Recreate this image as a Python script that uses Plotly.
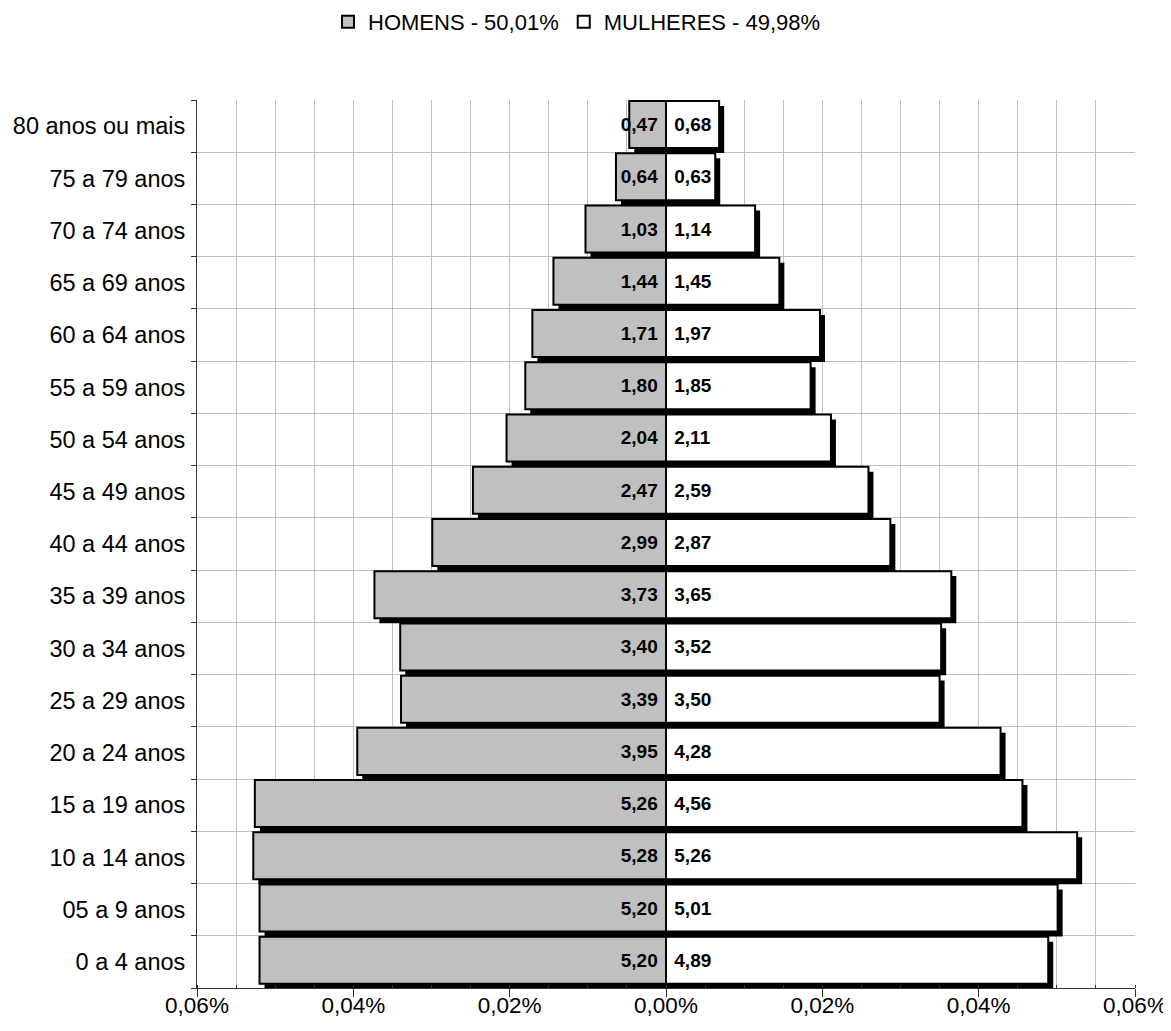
import plotly.graph_objects as go

# ---- data ----
age_groups = ["0 a 4 anos", "05 a 9 anos", "10 a 14 anos", "15 a 19 anos", "20 a 24 anos",
              "25 a 29 anos", "30 a 34 anos", "35 a 39 anos", "40 a 44 anos", "45 a 49 anos",
              "50 a 54 anos", "55 a 59 anos", "60 a 64 anos", "65 a 69 anos", "70 a 74 anos",
              "75 a 79 anos", "80 anos ou mais"]
men_pct = [5.20, 5.20, 5.28, 5.26, 3.95, 3.39, 3.40, 3.73, 2.99, 2.47, 2.04, 1.80, 1.71, 1.44, 1.03, 0.64, 0.47]
women_pct = [4.89, 5.01, 5.26, 4.56, 4.28, 3.50, 3.52, 3.65, 2.87, 2.59, 2.11, 1.85, 1.97, 1.45, 1.14, 0.63, 0.68]
men_name = "HOMENS - 50,01%"
women_name = "MULHERES - 49,98%"
tick_vals = [-0.06, -0.04, -0.02, 0.0, 0.02, 0.04, 0.06]
tick_text = ["0,06%", "0,04%", "0,02%", "0,00%", "0,02%", "0,04%", "0,06%"]

men_x = [-v / 100 for v in men_pct]
women_x = [v / 100 for v in women_pct]
fmt = lambda v: f"{v:.2f}".replace(".", ",")
NB = "\u00a0"
men_text = [fmt(v) + NB for v in men_pct]
women_text = [NB + fmt(v) for v in women_pct]

FONT = "Arial, Liberation Sans, sans-serif"
SHADOW_DX = 0.00064   # ~5 px to the right
BAR_W = 0.9
BAR_OFF = -0.42
SH_OFF = -0.515

W, H = 1163, 1023  # page body has an 8px margin

fig = go.Figure()
# shadows
for xs in (men_x, women_x):
    fig.add_trace(go.Bar(
        y=age_groups, x=xs, base=SHADOW_DX, orientation="h",
        width=BAR_W, offset=SH_OFF,
        marker=dict(color="black", line=dict(width=0)),
        showlegend=False, hoverinfo="skip",
    ))
# main bars
for xs, txt, name, color in ((men_x, men_text, men_name, "#c0c0c0"),
                             (women_x, women_text, women_name, "white")):
    fig.add_trace(go.Bar(
        y=age_groups, x=xs, orientation="h", name=name,
        width=BAR_W, offset=BAR_OFF,
        marker=dict(color=color, line=dict(color="black", width=2)),
        text=txt, textposition="inside", insidetextanchor="start", textangle=0,
        textfont=dict(family=FONT, size=19, color="black", weight="bold"),
        constraintext="none", cliponaxis=False,
    ))

fig.update_layout(
    width=W, height=H,
    barmode="overlay",
    plot_bgcolor="white", paper_bgcolor="white",
    margin=dict(l=189, r=36, t=92, b=43, autoexpand=False),
    font=dict(family=FONT, size=22, color="black"),
    uniformtext=dict(minsize=19, mode="show"),
    legend=dict(orientation="h", xref="container", x=569 / W, xanchor="center",
                yref="container", y=1 - 14 / H, yanchor="middle",
                font=dict(size=22), itemwidth=30, traceorder="normal"),
    xaxis=dict(range=[-0.06, 0.06], tickvals=tick_vals, ticktext=tick_text,
               automargin=False,
               showgrid=True, gridcolor="#c0c0c0", gridwidth=1, zeroline=False,
               showline=True, linecolor="#333333", linewidth=1,
               ticks="outside", ticklen=8, tickcolor="#333333",
               ticklabelstandoff=-11,
               minor=dict(dtick=0.005, showgrid=True, gridcolor="#c0c0c0", gridwidth=1,
                          ticks="inside", ticklen=3, tickcolor="#333333"),
               tickfont=dict(size=22.5)),
    yaxis=dict(type="category", range=[-0.5, 16.5], tickson="boundaries",
               automargin=False,
               showgrid=True, gridcolor="#c0c0c0", gridwidth=1,
               showline=True, linecolor="#333333", linewidth=1,
               ticks="outside", ticklen=5, tickcolor="#333333",
               ticklabelstandoff=6,
               tickfont=dict(size=23.5)),
)

fig.write_html("out.html")
